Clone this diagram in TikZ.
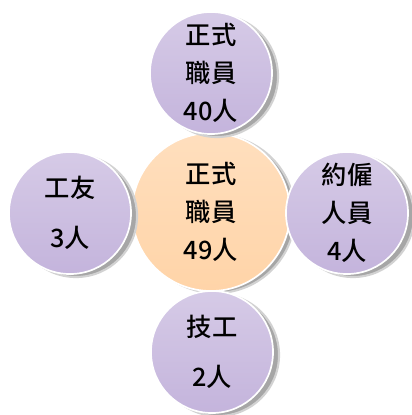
\documentclass[tikz,border=0pt]{standalone}
\usepackage{fontspec}
\setmainfont{Noto Sans CJK TC Medium}
\usetikzlibrary{positioning}
\definecolor{lavender}{RGB}{196,180,220}
\definecolor{peach}{RGB}{255,212,168}
\tikzset{
  ball/.style={circle, draw=white, line width=1.2pt, align=center,
    font=\fontsize{18}{27}\selectfont, inner sep=0pt},
  staff/.style={ball, minimum size=3.05cm, top color=lavender!70!white, bottom color=lavender},
  core/.style={ball, minimum size=3.95cm, top color=peach!75!white, bottom color=peach},
  shade/.style={circle, fill=gray!70, draw=gray!35, line width=1.5pt, inner sep=0pt}
}
\begin{document}
\begin{tikzpicture}[x=0.025cm,y=-0.025cm]
  \useasboundingbox (0,0) rectangle (412,415);

  % 中心
  \node[shade, minimum size=3.95cm] at (216,214) {};
  \node[core] (main) at (211,212) {正式\\職員\\49人};

  % 四周
  \foreach \name/\px/\py/\txt in {top/211/73/正式\\職員\\40人,
      left/70/213/工友\\[9pt]3人,
      right/347/213/約僱\\人員\\4人,
      bottom/212/352/技工\\[9pt]2人} {
    \node[shade, minimum size=3.05cm] at (\px+6,\py+3) {};
    \node[staff] (\name) at (\px,\py) {\txt};
  }
\end{tikzpicture}
\end{document}
